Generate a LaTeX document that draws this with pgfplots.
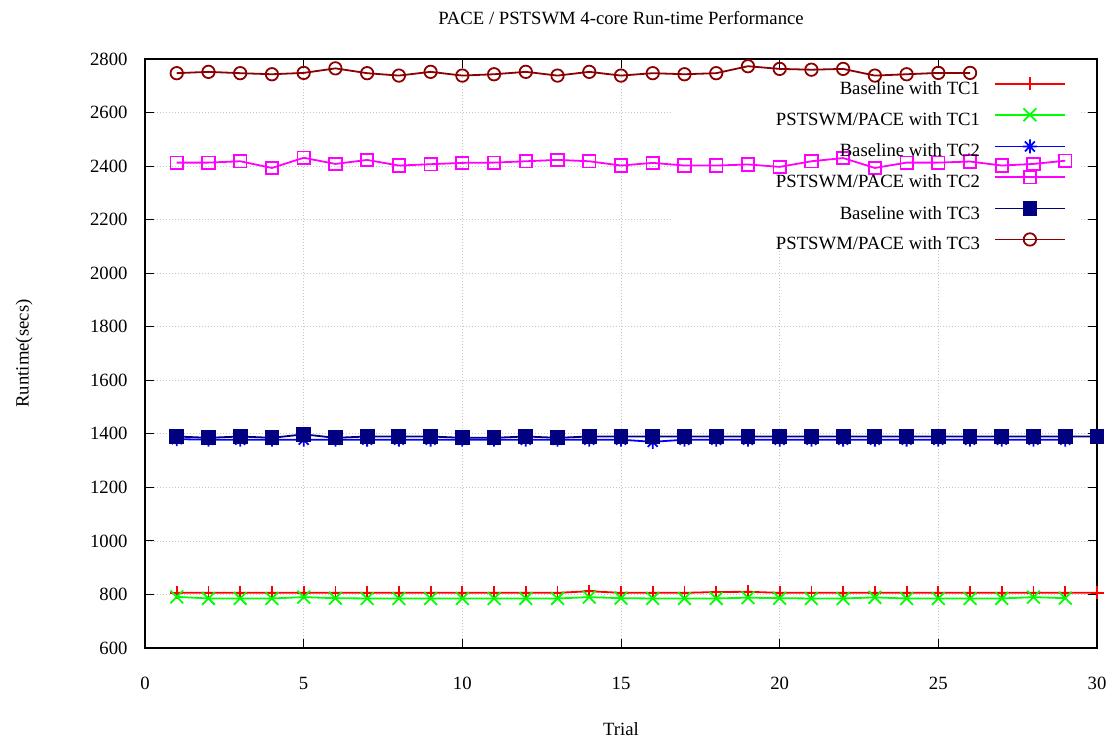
\documentclass[border=0pt]{standalone}
\usepackage{fontspec}
\setmainfont{Liberation Serif}
\usepackage{pgfplots}
\pgfplotsset{compat=1.18}
\definecolor{tcnavy}{RGB}{0,0,128}
\definecolor{tcbrown}{RGB}{139,0,0}
\definecolor{tcmag}{RGB}{255,0,255}
\definecolor{tcred}{RGB}{255,0,0}
\definecolor{tcgreen}{RGB}{0,255,0}
\definecolor{tcblue}{RGB}{0,0,255}
\pgfdeclareplotmark{star8}{%
  \pgfpathmoveto{\pgfpoint{0pt}{-\pgfplotmarksize}}\pgfpathlineto{\pgfpoint{0pt}{\pgfplotmarksize}}%
  \pgfpathmoveto{\pgfpoint{-\pgfplotmarksize}{0pt}}\pgfpathlineto{\pgfpoint{\pgfplotmarksize}{0pt}}%
  \pgfpathmoveto{\pgfpoint{-.7071\pgfplotmarksize}{-.7071\pgfplotmarksize}}\pgfpathlineto{\pgfpoint{.7071\pgfplotmarksize}{.7071\pgfplotmarksize}}%
  \pgfpathmoveto{\pgfpoint{-.7071\pgfplotmarksize}{.7071\pgfplotmarksize}}\pgfpathlineto{\pgfpoint{.7071\pgfplotmarksize}{-.7071\pgfplotmarksize}}%
  \pgfusepathqstroke}
\begin{document}
\begin{tikzpicture}[font=\fontsize{18.7}{22}\selectfont]
\begin{axis}[
  name=ax, set layers,
  width=952pt, height=589pt, scale only axis,
  xmin=0, xmax=30, ymin=600, ymax=2800,
  xtick={0,5,...,30}, ytick={600,800,...,2800},
  /pgf/number format/assume math mode=true,
  /pgf/number format/1000 sep={},
  tick align=inside, major tick length=9pt,
  tick style={black, line width=1pt},
  axis line style={line width=1.6pt},
  grid=major, grid style={gray!45, line width=0.8pt, dash pattern=on 1pt off 2pt},
  title={PACE / PSTSWM 4-core Run-time Performance},
  title style={at={(0.5,1.0594)}, anchor=center},
  xlabel={Trial}, xlabel style={at={(0.5,-0.1375)}, anchor=center},
  ylabel={Runtime(secs)}, ylabel style={at={(-0.127,0.5)}, anchor=center},
  xticklabel style={yshift=-26pt},
  yticklabel style={xshift=-14pt},
  legend style={at={(1,1)}, anchor=north east, xshift=-31pt, yshift=-18pt,
    draw=none, fill=none, inner sep=0pt, row sep=10.2pt, column sep=14pt,
    nodes={inner sep=0pt, text height=13pt, text depth=4pt}},
  legend cell align=right, legend plot pos=right,
  legend image code/.code={\draw[mark repeat=2,mark phase=2,#1] plot coordinates {(0pt,6pt) (35pt,6pt) (70pt,6pt)};},
  every axis plot/.append style={line width=1.8pt},
]
\begin{pgfonlayer}{pre main}
\fill[white] (axis cs:16.64,2767) rectangle (axis cs:29.47,2087);
\end{pgfonlayer}

\addplot[color=tcred, mark=+, mark size=6.5pt] coordinates {
(1,806) (2,806) (3,806) (4,806) (5,806) (6,806) (7,806) (8,806) (9,806) (10,806)
(11,806) (12,806) (13,806) (14,812) (15,806) (16,806) (17,806) (18,809) (19,810) (20,806)
(21,806) (22,806) (23,806) (24,806) (25,806) (26,806) (27,806) (28,806) (29,806) (30,806)};
\addlegendentry{Baseline with TC1}

\addplot[color=tcgreen, mark=x, mark size=9pt] coordinates {
(1,791) (2,785) (3,785) (4,785) (5,790) (6,786) (7,785) (8,785) (9,785) (10,785)
(11,785) (12,785) (13,785) (14,790) (15,786) (16,785) (17,785) (18,785) (19,788) (20,786)
(21,785) (22,785) (23,789) (24,785) (25,785) (26,785) (27,785) (28,790) (29,786)};
\addlegendentry{PSTSWM/PACE with TC1}

\addplot[color=tcblue, mark=star8, mark size=7pt] coordinates {
(1,1380) (2,1378) (3,1378) (4,1378) (5,1378) (6,1378) (7,1378) (8,1378) (9,1378) (10,1378)
(11,1378) (12,1378) (13,1378) (14,1378) (15,1378) (16,1370) (17,1378) (18,1378) (19,1378) (20,1378)
(21,1378) (22,1378) (23,1378) (24,1378) (25,1378) (26,1378) (27,1378) (28,1378) (29,1378)};
\addlegendentry{Baseline with TC2}

\addplot[color=tcmag, mark=square, mark size=6.2pt] coordinates {
(1,2413) (2,2413) (3,2418) (4,2393) (5,2431) (6,2408) (7,2423) (8,2402) (9,2407) (10,2412)
(11,2413) (12,2418) (13,2423) (14,2418) (15,2402) (16,2412) (17,2402) (18,2402) (19,2406) (20,2397)
(21,2418) (22,2430) (23,2393) (24,2413) (25,2413) (26,2417) (27,2402) (28,2408) (29,2420)};
\addlegendentry{PSTSWM/PACE with TC2}

\addplot[color=tcnavy, mark=square*, mark size=6.5pt] coordinates {
(1,1390) (2,1385) (3,1390) (4,1385) (5,1398) (6,1385) (7,1390) (8,1390) (9,1390) (10,1385)
(11,1385) (12,1390) (13,1385) (14,1390) (15,1390) (16,1390) (17,1390) (18,1390) (19,1390) (20,1390)
(21,1390) (22,1390) (23,1390) (24,1390) (25,1390) (26,1390) (27,1390) (28,1390) (29,1390) (30,1390)};
\addlegendentry{Baseline with TC3}

\addplot[color=tcbrown, mark=o, mark size=6.2pt] coordinates {
(1,2747) (2,2752) (3,2747) (4,2743) (5,2748) (6,2765) (7,2747) (8,2738) (9,2752) (10,2738)
(11,2743) (12,2752) (13,2738) (14,2752) (15,2738) (16,2747) (17,2743) (18,2747) (19,2773) (20,2763)
(21,2760) (22,2763) (23,2738) (24,2743) (25,2748) (26,2748)};
\addlegendentry{PSTSWM/PACE with TC3}
\end{axis}
\path (ax.south west) +(-145pt,-92pt) (ax.north east) +(17pt,59pt);
\end{tikzpicture}
\end{document}
